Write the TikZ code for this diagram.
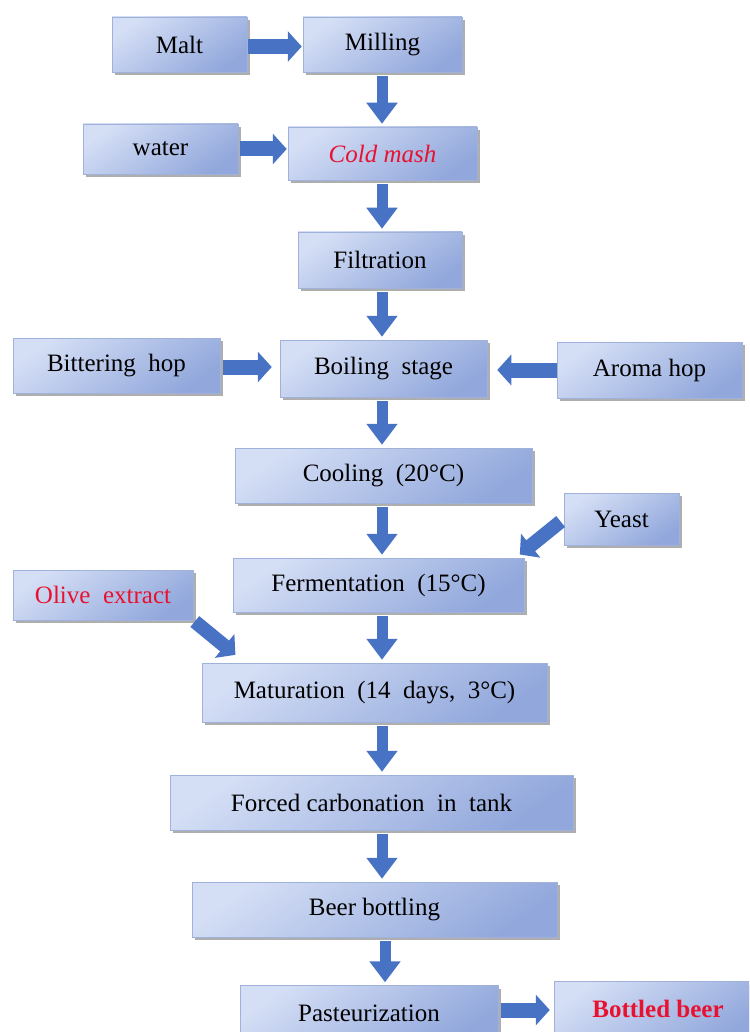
\documentclass[tikz,border=0pt]{standalone}
\usepackage{fontspec}
\setmainfont{Liberation Serif}
\newfontfamily\stepfont{Liberation Serif}
\usetikzlibrary{arrows.meta,shadows}
\definecolor{boxtop}{RGB}{212,222,245}
\definecolor{boxmid}{RGB}{244,246,253}
\definecolor{boxbot}{RGB}{146,168,220}
\definecolor{boxedge}{RGB}{160,178,218}
\definecolor{arrowblue}{RGB}{72,114,196}
\definecolor{stepred}{RGB}{232,18,48}

\begin{document}
\begin{tikzpicture}[x=1pt,y=-1pt,
    stage/.style={draw=boxedge, line width=0.5pt, top color=boxtop, middle color=boxmid, bottom color=boxbot, shading angle=35,
        drop shadow={shadow xshift=2.5pt, shadow yshift=-3pt, fill=black!45, opacity=0.7},
        inner sep=0pt, font=\stepfont\fontsize{25}{28}\selectfont},
    downarrow/.style={draw=arrowblue, line width=11pt, -{Triangle[width=30pt,length=21pt]}, shorten <=4pt, shorten >=3pt},
    sidearrow/.style={draw=arrowblue, line width=15pt, -{Triangle[width=30pt,length=14pt]}}]
    \clip[use as bounding box] (0,0) rectangle (749,1032) ; % page
\coordinate (axis) at (382,0) ; % main line
\node[stage, minimum width=135pt, minimum height=55pt] (malt) at (179.5,44.5) {Malt} ; % malt
\node[stage, minimum width=159pt, minimum height=55pt] (milling) at (382.5,44.5) {Milling} ; % milling
\node[stage, minimum width=155pt, minimum height=50pt] (water) at (160.5,149) {water} ; % water
\node[stage, minimum width=189pt, minimum height=53pt] (coldmash) at (382.5,153.5) {\textcolor{stepred}{\itshape Cold mash}} ; % coldmash
\node[stage, minimum width=164pt, minimum height=56pt] (filtration) at (380,260) {Filtration} ; % filtration
\node[stage, minimum width=207pt, minimum height=55pt] (bittering) at (116.5,365.5) {Bittering~~hop} ; % bittering
\node[stage, minimum width=207pt, minimum height=57pt] (boiling) at (383.5,368.5) {Boiling~~stage} ; % boiling
\node[stage, minimum width=185pt, minimum height=56pt] (aroma) at (649.5,370) {Aroma hop} ; % aroma
\node[stage, minimum width=297pt, minimum height=55pt] (cooling) at (383.5,475.5) {Cooling~~(20°C)} ; % cooling
\node[stage, minimum width=115pt, minimum height=52pt] (yeast) at (621.5,519) {Yeast} ; % yeast
\node[stage, minimum width=291pt, minimum height=54pt] (fermentation) at (378.5,585) {Fermentation~~(15°C)} ; % fermentation
\node[stage, minimum width=180pt, minimum height=50pt] (olive) at (103,595) {\textcolor{stepred}{Olive~~extract}} ; % olive
\node[stage, minimum width=345pt, minimum height=59pt] (maturation) at (374.5,692.5) {Maturation~~(14~~days,~~3°C)} ; % maturation
\node[stage, minimum width=403pt, minimum height=55pt] (carbonation) at (371.5,802.5) {Forced carbonation~~in~~tank} ; % carbonation
\node[stage, minimum width=365pt, minimum height=55pt] (bottling) at (374.5,909.5) {Beer bottling} ; % bottling
\node[stage, minimum width=258pt, minimum height=55pt] (pasteur) at (369,1013) {Pasteurization} ; % pasteur
\node[stage, minimum width=208pt, minimum height=55pt] (bottled) at (658,1009) {\textcolor{stepred}{\bfseries Bottled beer}} ; % bottled
\draw[sidearrow, shorten <=1pt, shorten >=1pt] ([yshift=-2pt]malt.east) -- ([yshift=-2pt]milling.west) ; % malt in
\draw[sidearrow, shorten <=2pt, shorten >=1pt] (water.east) -- (water.east -| coldmash.west) ; % water in
\draw[sidearrow, shorten <=3pt, shorten >=8pt] ([yshift=-1.5pt]bittering.east) -- ([yshift=-1.5pt]bittering.east -| boiling.west) ; % bittering in
\draw[sidearrow, shorten >=10pt] (aroma.west) -- (aroma.west -| boiling.east) ; % aroma in
\draw[sidearrow, shorten <=3pt, shorten >=4pt] ([yshift=3pt]pasteur.east) -- ([yshift=3pt]pasteur.east -| bottled.west) ; % to bottle
\draw[sidearrow, line width=14pt, shorten <=4pt, shorten >=2pt] (yeast.west) -- ([xshift=-6pt,yshift=2pt]fermentation.north east) ; % yeast in
\draw[sidearrow, line width=14pt, shorten <=2pt, shorten >=3pt] (olive.south east) -- ([xshift=36pt,yshift=6pt]maturation.north west) ; % olive in
\draw[downarrow] (milling.south -| axis) -- (coldmash.north -| axis) ; % step 1
\draw[downarrow] (coldmash.south -| axis) -- (filtration.north -| axis) ; % step 2
\draw[downarrow] (filtration.south -| axis) -- (boiling.north -| axis) ; % step 3
\draw[downarrow] (boiling.south -| axis) -- (cooling.north -| axis) ; % step 4
\draw[downarrow] (cooling.south -| axis) -- (fermentation.north -| axis) ; % step 5
\draw[downarrow] (fermentation.south -| axis) -- (maturation.north -| axis) ; % step 6
\draw[downarrow] (maturation.south -| axis) -- (carbonation.north -| axis) ; % step 7
\draw[downarrow] (carbonation.south -| axis) -- (bottling.north -| axis) ; % step 8
\draw[downarrow] ([xshift=3pt]bottling.south -| axis) -- ([xshift=3pt]pasteur.north -| axis) ; % step 9

    \end{tikzpicture}
\end{document}
